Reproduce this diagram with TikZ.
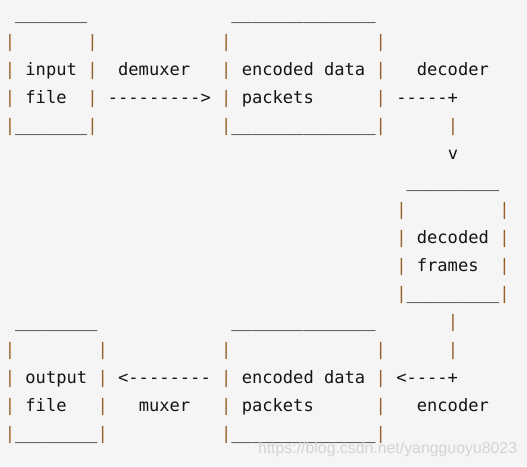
\documentclass[tikz,border=0pt]{standalone}
\usepackage{fontspec}
\setmonofont{DejaVu Sans Mono}
\newfontfamily\markfont{Liberation Sans}
\usepackage{tikz}

\definecolor{codebg}{RGB}{245,245,245}
\definecolor{codeink}{RGB}{20,20,20}
\definecolor{pipeink}{RGB}{150,95,40}
\definecolor{markgray}{RGB}{212,212,212}
\newcommand{\vb}{{\color{pipeink}|}}
\newcommand{\unders}[1]{\foreach\k in {1,...,#1}{\_}}
\tikzset{code/.style={font=\ttfamily\fontsize{17.1}{20}\selectfont, text=codeink,
  anchor=base west, inner sep=0pt, outer sep=0pt}}

\begin{document}
\begin{tikzpicture}[x=10.3pt,y=-28pt]
%background
\fill[codebg] (-0.471,-0.679) rectangle (50.694,15.964);
%box walls
\foreach \name/\lc/\rc/\top in {inbox/0/8/1, pktbox/21/36/1, frmbox/38/48/7, outbox/0/9/12, encbox/21/36/12}{
  \foreach \r in {0,...,3}{
    \node[code] (\name-l\r) at (\lc,\top+\r) {\vb};
    \node[code] (\name-r\r) at (\rc,\top+\r) {\vb};
  }
}
%lids and floors
\foreach \name/\c/\n/\r in {intop/1/7/0, infloor/1/7/4, pkttop/22/14/0, pktfloor/22/14/4,
  frmtop/39/9/6, frmfloor/39/9/10, outtop/1/8/11, outfloor/1/8/15, enctop/22/14/11, encfloor/22/14/15}
  \node[code] (\name) at (\c,\r) {\unders{\n}};
%labels
\node[code] (input) at (2,2) {input};
\node[code] (infile) at (2,3) {file};
\node[code] (demuxer) at (11,2) {demuxer};
\node[code] (demuxarrow) at (10,3) {--------->};
\node[code] (pktA) at (23,2) {encoded data};
\node[code] (pktA2) at (23,3) {packets};
\node[code] (decoder) at (40,2) {decoder};
\node[code] (decarrow) at (38,3) {-----+};
\node[code] (decdrop) at (43,4) {\vb};
\node[code] (dectip) at (43,5) {v};
\node[code] (decoded) at (40,8) {decoded};
\node[code] (frames) at (40,9) {frames};
\node[code] (encrise1) at (43,11) {\vb};
\node[code] (encrise2) at (43,12) {\vb};
\node[code] (encarrow) at (38,13) {<----+};
\node[code] (encoder) at (40,14) {encoder};
\node[code] (pktB) at (23,13) {encoded data};
\node[code] (pktB2) at (23,14) {packets};
\node[code] (muxarrow) at (11,13) {<--------};
\node[code] (muxer) at (13,14) {muxer};
\node[code] (output) at (2,13) {output};
\node[code] (outfile) at (2,14) {file};
%
\node[code, font=\markfont\fontsize{15.85}{18}\selectfont, text=markgray] (mark) at (24.58,15.5) {https://blog.csdn.net/yangguoyu8023};
\end{tikzpicture}
\end{document}
